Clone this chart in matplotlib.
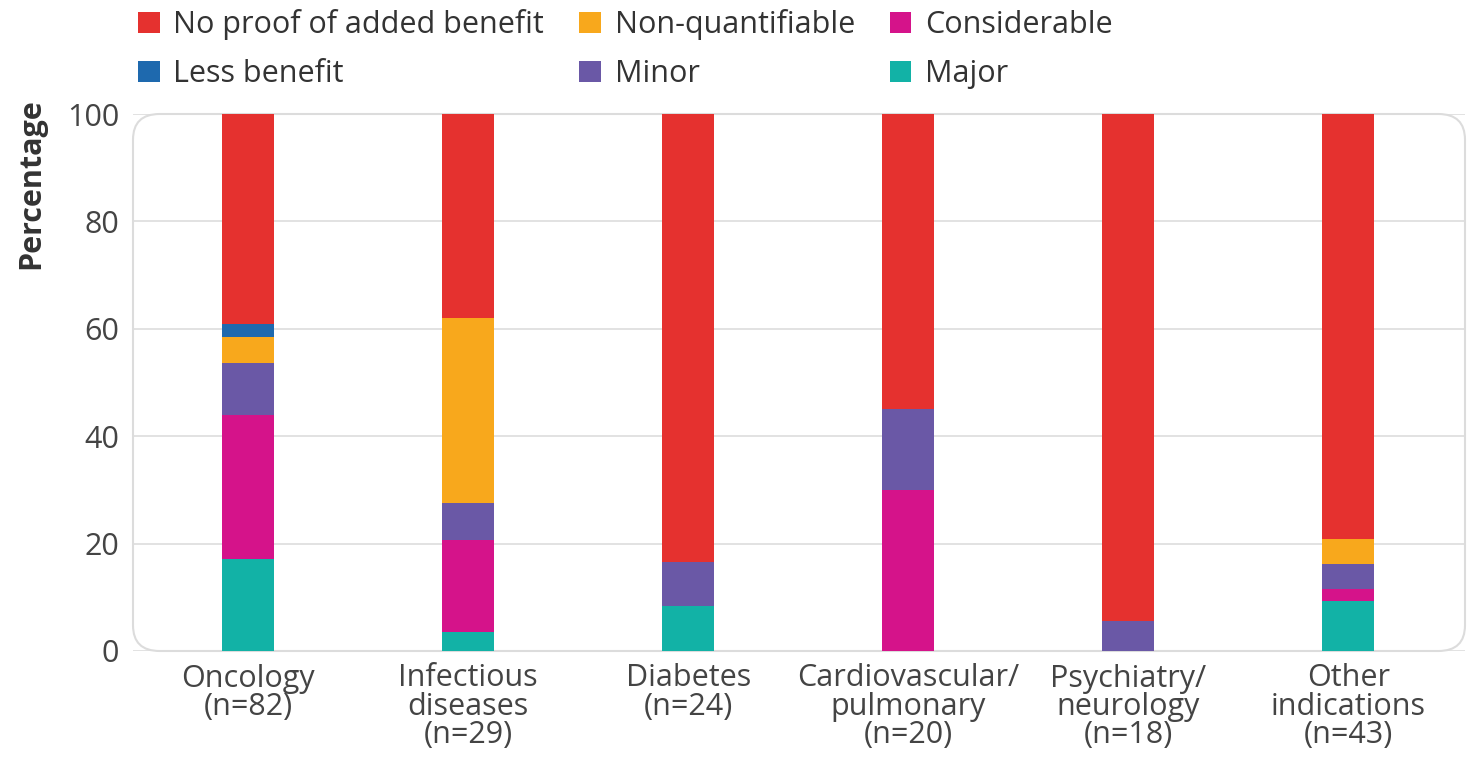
import matplotlib
matplotlib.use("Agg")
import matplotlib.pyplot as plt
from matplotlib.patches import FancyBboxPatch, Patch
import numpy as np

plt.rcParams['font.family'] = ['Open Sans', 'DejaVu Sans']

categories = ["Oncology\n(n=82)", "Infectious\ndiseases\n(n=29)", "Diabetes\n(n=24)",
              "Cardiovascular/\npulmonary\n(n=20)", "Psychiatry/\nneurology\n(n=18)",
              "Other\nindications\n(n=43)"]
n_total = [82, 29, 24, 20, 18, 43]
# counts per benefit category (stacked from bottom)
major = [14, 1, 2, 0, 0, 4]
considerable = [22, 5, 0, 6, 0, 1]
minor = [8, 2, 2, 3, 1, 2]
non_quantifiable = [4, 10, 0, 0, 0, 2]
less_benefit = [2, 0, 0, 0, 0, 0]
no_proof = [32, 11, 20, 11, 17, 34]

series = [
    ("Major", major, "#12B2A6"),
    ("Considerable", considerable, "#D5138A"),
    ("Minor", minor, "#6A58A6"),
    ("Non-quantifiable", non_quantifiable, "#F8A81C"),
    ("Less benefit", less_benefit, "#1E69AE"),
    ("No proof of added benefit", no_proof, "#E5312F"),
]

W, H = 1473, 761
fig = plt.figure(figsize=(W / 100, H / 100), dpi=100)
ax = fig.add_axes([133 / W, 1 - 651 / H, (1465 - 133) / W, (651 - 114) / H])

x = np.arange(len(categories))
bottom = np.zeros(len(categories))
totals = np.array(n_total, dtype=float)
handles = {}
for name, vals, col in series:
    pct = np.array(vals) / totals * 100
    ax.bar(x, pct, width=0.236, bottom=bottom, color=col, zorder=3, linewidth=0)
    handles[name] = Patch(facecolor=col, edgecolor='none')
    bottom += pct

ax.set_xlim(-0.523, 5.53)
ax.set_ylim(0, 100)
ax.set_yticks([0, 20, 40, 60, 80, 100])
ax.set_xticks(x)
ax.set_xticklabels(categories, fontsize=22, color="#444444", linespacing=0.92)
ax.tick_params(axis='y', labelsize=22, colors="#444444", length=0, pad=10)
ax.tick_params(axis='x', length=0, pad=9)
for s in ax.spines.values():
    s.set_visible(False)
ax.grid(axis='y', color="#dddddd", linewidth=1.2, zorder=0)
ax.set_axisbelow(True)

box = FancyBboxPatch((0, 0), 1, 1, boxstyle="round,pad=0,rounding_size=0.02",
                     transform=ax.transAxes, facecolor='none', edgecolor="#dcdcdc",
                     linewidth=1.5, zorder=1, clip_on=False, mutation_aspect=2.4)
ax.add_patch(box)

fig.text(31 / W, 1 - 98 / H, "Percentage", rotation=90, va='top', ha='center',
         fontsize=22, fontweight='bold', color="#333333")

order = ["No proof of added benefit", "Less benefit", "Non-quantifiable", "Minor",
         "Considerable", "Major"]
leg = fig.legend([handles[k] for k in order], order, ncol=3, loc='upper left',
                 bbox_to_anchor=(120 / W, 1 + 9 / H), frameon=False, fontsize=22,
                 handlelength=0.7, handleheight=0.7, handletextpad=0.45,
                 columnspacing=1.15, labelspacing=0.62, labelcolor="#333333",
                 borderaxespad=0.2)

fig.savefig("out.png", dpi=100)
